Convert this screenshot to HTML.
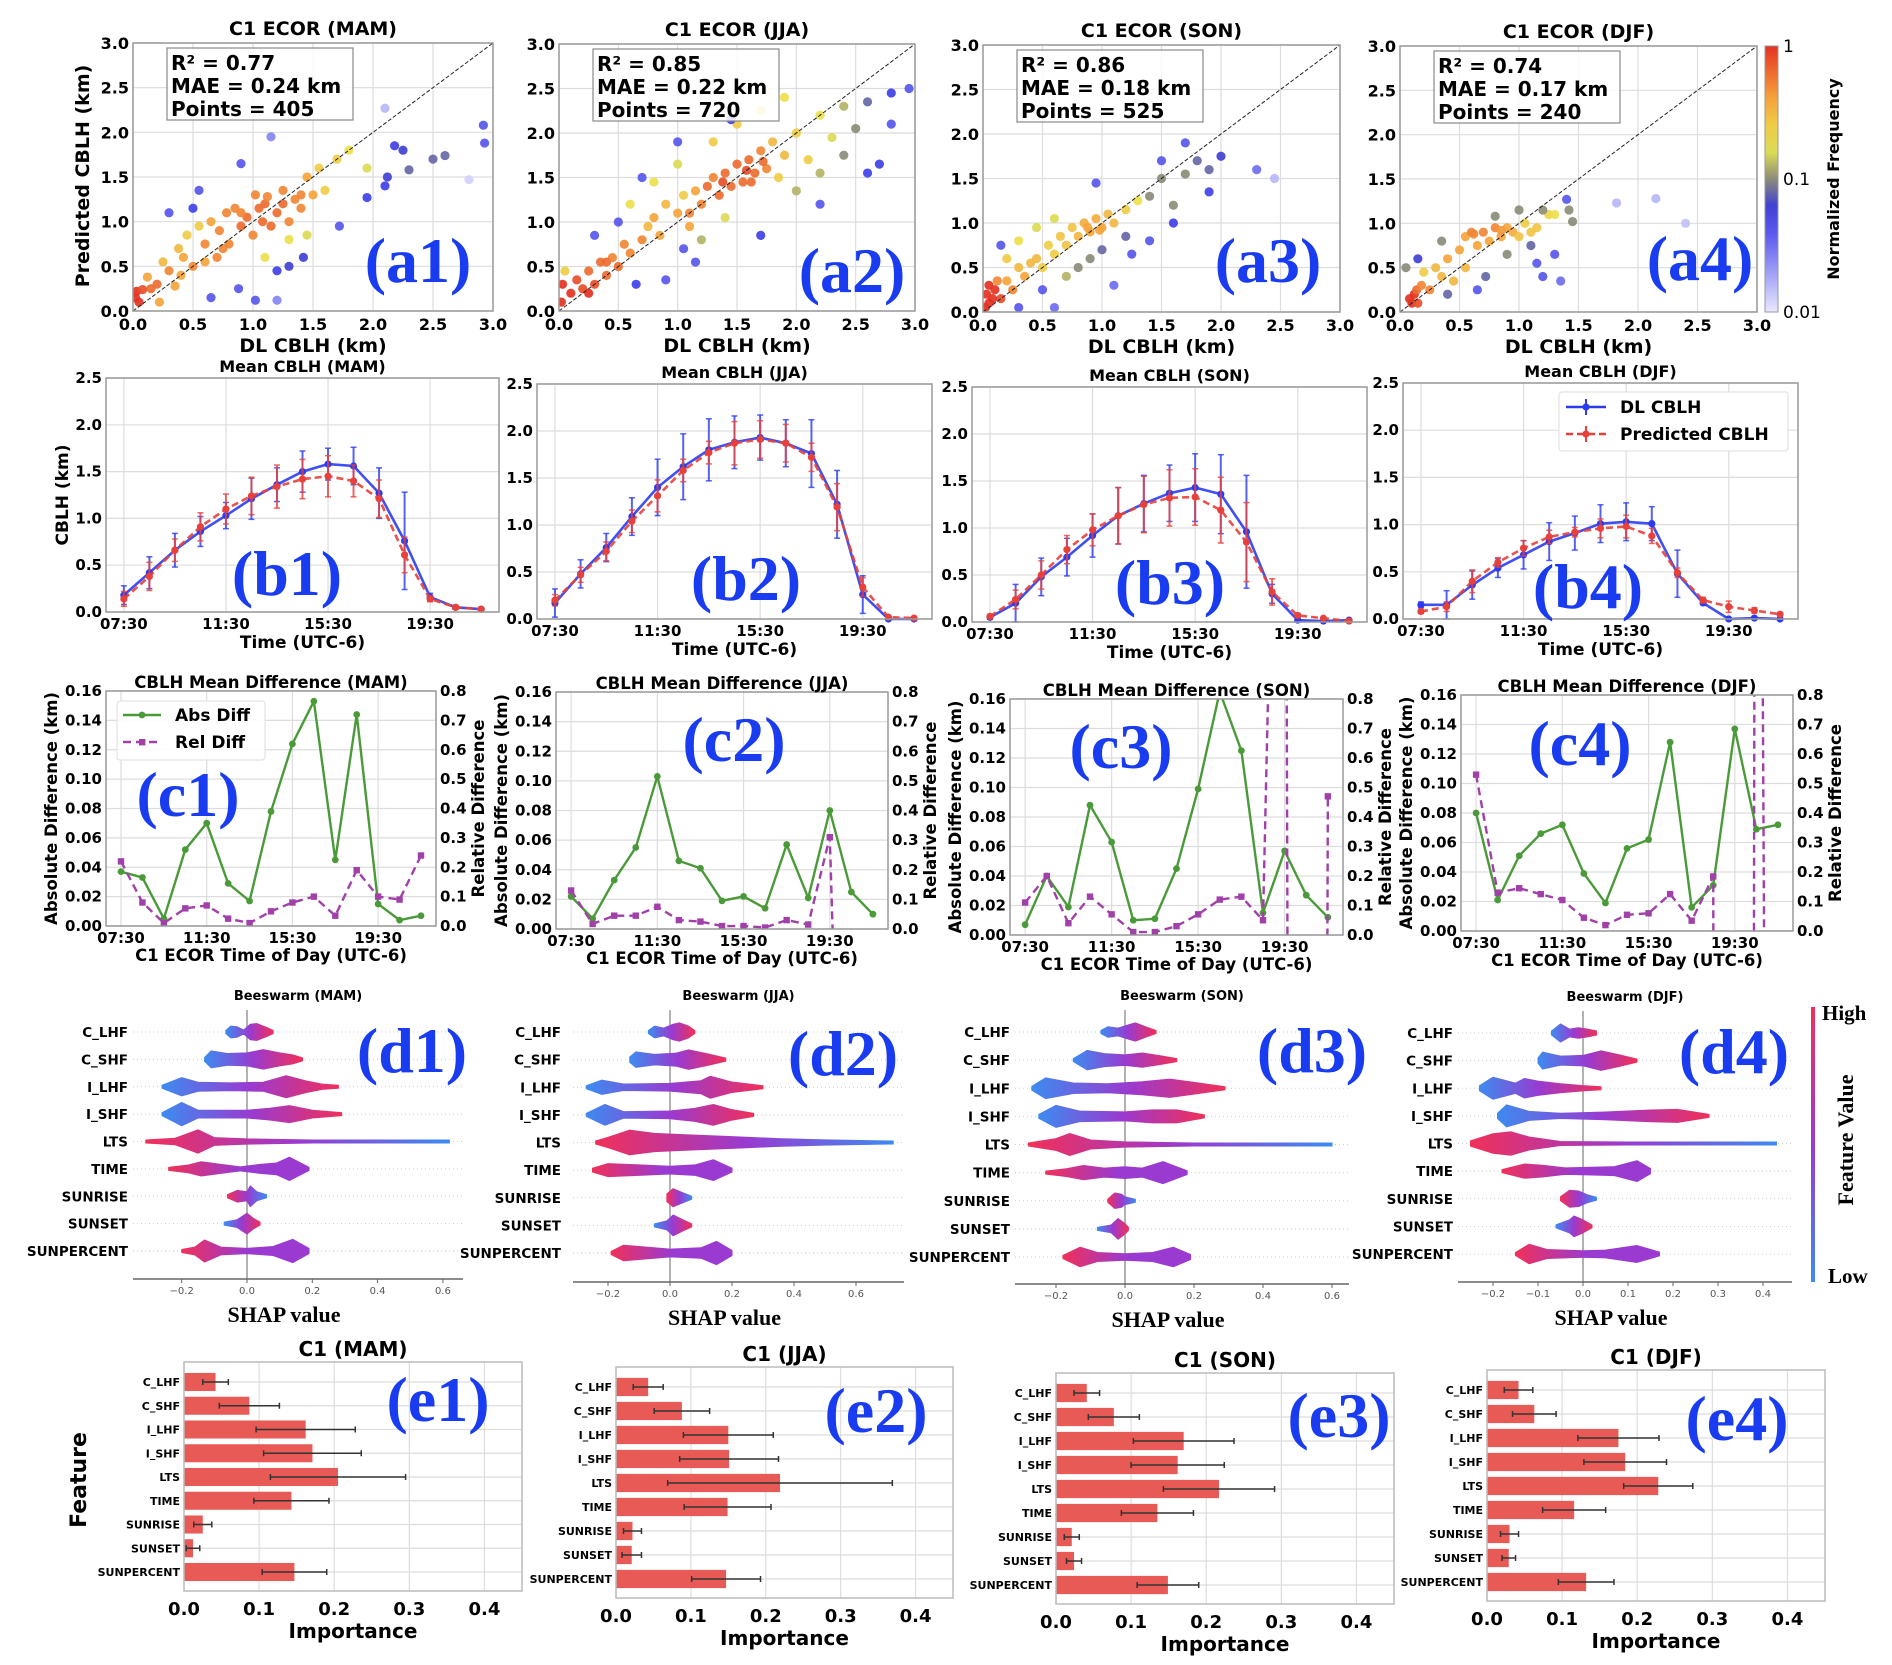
<!DOCTYPE html>
<html><head><meta charset="utf-8"><style>
html,body{margin:0;padding:0;background:#fff;width:1892px;height:1665px;overflow:hidden}
svg{display:block}
text{font-family:"DejaVu Sans","Liberation Sans",sans-serif}
.b{font-weight:bold}
.serif{font-family:"Liberation Serif",serif;font-weight:bold}
</style></head><body>
<svg id="fig" xmlns="http://www.w3.org/2000/svg" width="1892" height="1665" viewBox="0 0 1892 1665">
<rect x="0" y="0" width="1892" height="1665" fill="#fff"/>
<defs id="defs"></defs>
</svg>
<script>
// ================= DATA =================
const seasons=['MAM','JJA','SON','DJF'];
const statsR2=[0.77,0.85,0.86,0.74];
const statsMAE=[0.24,0.22,0.18,0.17];
const statsN=[405,720,525,240];
const scatterTicks=[0,0.5,1.0,1.5,2.0,2.5,3.0];
// scatter points [DL, predicted, colour-level 0..1 (log normalized frequency)]
const scatterMAM=[[0.02,0.15,1],[0.03,0.22,1],[0.05,0.1,1],[0.08,0.24,.95],[0.12,0.38,.8],[0.15,0.25,.9],[0.2,0.3,.9],[0.22,0.1,.8],[0.25,0.55,.75],[0.3,0.45,.85],[0.35,0.28,.8],[0.38,0.7,.75],[0.42,0.6,.8],[0.45,0.85,.7],[0.5,0.5,.85],[0.55,0.95,.7],[0.6,0.75,.85],[0.65,1.0,.8],[0.7,0.6,.85],[0.72,0.9,.85],[0.78,1.1,.85],[0.8,0.75,.85],[0.85,1.15,.85],[0.9,0.95,.9],[0.95,1.05,.9],[1.0,0.85,.85],[1.02,1.3,.85],[1.08,1.0,.9],[1.1,1.2,.9],[1.15,0.95,.9],[1.2,1.1,.9],[1.25,1.35,.85],[1.3,1.0,.85],[1.35,1.25,.85],[1.4,1.15,.85],[1.45,1.5,.8],[1.5,1.3,.8],[1.55,1.6,.7],[1.6,1.35,.7],[1.7,1.7,.7],[1.8,1.8,.65],[1.95,1.6,.6],[1.1,0.6,.65],[1.3,0.8,.65],[1.45,0.85,.6],[0.3,1.1,.3],[0.5,1.15,.35],[0.55,1.35,.3],[0.9,1.65,.3],[1.15,1.95,.2],[1.2,0.45,.35],[1.3,0.5,.4],[1.42,0.6,.4],[1.72,0.95,.3],[0.88,0.25,.3],[1.02,0.12,.3],[1.2,0.12,.2],[2.1,1.4,.35],[2.12,1.5,.4],[2.18,1.85,.35],[2.25,1.8,.4],[2.3,1.58,.45],[2.5,1.7,.45],[2.6,1.74,.45],[2.92,2.08,.3],[2.93,1.88,.3],[2.1,2.27,.1],[2.8,1.47,.05],[0.65,0.15,.3],[1.95,1.27,.35],[0.6,0.55,.8],[0.75,0.7,.85],[1.05,1.15,.9],[1.25,1.2,.9],[1.4,1.3,.85],[0.4,0.4,.8],[0.9,1.1,.85],[1.12,1.28,.85]];
const scatterJJA=[[0.02,0.1,1],[0.03,0.3,1],[0.05,0.45,.7],[0.1,0.2,1],[0.15,0.35,.95],[0.2,0.25,.95],[0.25,0.45,.9],[0.3,0.3,.95],[0.35,0.55,.9],[0.4,0.4,.9],[0.45,0.6,.85],[0.5,0.5,.9],[0.55,0.75,.85],[0.6,0.65,.85],[0.7,0.8,.85],[0.75,0.95,.75],[0.8,1.05,.8],[0.85,0.85,.8],[0.9,1.2,.75],[1.0,1.1,.8],[1.05,1.3,.7],[1.1,0.95,.8],[1.15,1.35,.8],[1.2,1.2,.85],[1.3,1.5,.85],[1.35,1.3,.9],[1.4,1.55,.9],[1.45,1.4,.9],[1.5,1.65,.9],[1.55,1.45,.9],[1.6,1.7,.9],[1.65,1.55,.9],[1.7,1.8,.85],[1.75,1.6,.85],[1.8,1.9,.75],[1.85,1.5,.7],[1.9,1.75,.75],[2.0,2.0,.7],[2.1,1.7,.7],[2.2,2.2,.65],[2.3,1.95,.6],[2.4,2.3,.55],[2.5,2.05,.5],[2.6,2.35,.45],[2.8,2.45,.35],[2.95,2.5,.3],[0.6,1.2,.65],[0.8,1.45,.65],[1.0,1.65,.6],[1.3,1.9,.7],[1.5,2.1,.7],[1.7,2.25,.65],[1.9,2.4,.65],[2.0,1.35,.55],[2.2,1.55,.55],[2.4,1.75,.5],[1.2,0.8,.55],[1.4,1.05,.6],[0.5,1.0,.3],[0.3,0.85,.3],[0.7,1.5,.3],[1.0,1.9,.3],[1.45,2.15,.35],[0.9,0.35,.3],[1.15,0.55,.3],[1.7,0.85,.35],[2.2,1.2,.3],[2.6,1.55,.35],[2.7,1.65,.35],[1.05,0.7,.3],[0.65,0.3,.35],[2.8,2.1,.3],[1.38,1.45,.95],[1.58,1.58,.95],[1.62,1.45,.9],[1.25,1.4,.9],[0.25,0.2,1],[0.4,0.55,.9],[1.1,1.1,.85],[1.72,1.68,.9]];
const scatterSON=[[0.02,0.05,1],[0.03,0.2,1],[0.05,0.1,1],[0.1,0.25,1],[0.15,0.15,.95],[0.12,0.35,.85],[0.2,0.35,.8],[0.25,0.25,.85],[0.3,0.5,.75],[0.35,0.4,.8],[0.4,0.55,.75],[0.45,0.6,.75],[0.5,0.5,.7],[0.55,0.75,.7],[0.6,0.65,.7],[0.65,0.85,.72],[0.7,0.75,.72],[0.75,0.95,.72],[0.8,0.85,.75],[0.85,1.0,.78],[0.9,0.9,.8],[0.95,1.05,.78],[1.0,0.95,.8],[1.05,1.1,.75],[1.1,1.0,.75],[1.2,1.15,.7],[1.3,1.25,.65],[0.2,0.6,.7],[0.3,0.8,.65],[0.45,0.95,.6],[0.6,1.05,.6],[0.7,0.4,.55],[0.8,0.5,.5],[0.9,0.6,.5],[1.0,0.7,.45],[1.2,0.85,.45],[1.4,1.3,.5],[1.5,1.5,.5],[1.6,1.2,.5],[1.7,1.55,.5],[1.8,1.7,.45],[1.9,1.6,.45],[2.0,1.75,.4],[1.5,1.7,.3],[1.7,1.9,.3],[1.4,0.8,.3],[1.25,0.65,.3],[1.6,1.0,.35],[1.9,1.35,.35],[0.3,0.05,.3],[0.5,0.25,.3],[0.6,0.05,.25],[0.15,0.75,.3],[2.3,1.6,.25],[2.45,1.5,.1],[1.1,0.3,.25],[0.95,1.45,.3],[0.98,0.92,.8],[0.88,0.95,.8],[0.05,0.3,1],[0.08,0.15,1]];
const scatterDJF=[[0.08,0.15,1],[0.1,0.1,1],[0.12,0.2,1],[0.15,0.1,.95],[0.14,0.25,.9],[0.18,0.3,.85],[0.2,0.45,.7],[0.25,0.25,.85],[0.3,0.5,.75],[0.35,0.4,.75],[0.4,0.6,.8],[0.45,0.35,.75],[0.5,0.7,.8],[0.55,0.5,.75],[0.55,0.85,.8],[0.6,0.9,.85],[0.65,0.75,.8],[0.7,0.9,.85],[0.75,0.8,.8],[0.8,0.95,.85],[0.85,0.85,.8],[0.9,0.95,.8],[0.95,0.9,.78],[1.0,0.85,.72],[1.05,1.0,.7],[1.1,0.9,.72],[1.15,0.95,.72],[1.25,1.1,.68],[1.3,1.1,.65],[0.05,0.5,.5],[0.4,0.2,.45],[0.35,0.8,.5],[0.8,1.08,.5],[1.0,1.15,.5],[1.2,1.15,.5],[1.42,1.15,.5],[1.45,1.02,.5],[0.9,0.65,.5],[1.1,0.75,.45],[0.72,0.4,.45],[0.65,0.25,.3],[1.15,0.55,.3],[1.2,0.4,.3],[1.3,0.65,.3],[1.35,0.35,.25],[1.4,1.27,.3],[1.82,1.23,.1],[2.15,1.28,.1],[2.4,1.0,.08],[0.15,0.6,.4],[0.62,0.88,.85],[0.85,0.92,.82]];

// mean CBLH diurnal cycles (hourly 07:30..21:30)
const timeTickLabels=['07:30','11:30','15:30','19:30'];
const timeTickPos=[0,4,8,12];
const dlMean_MAM=[0.18,0.42,0.66,0.86,1.03,1.21,1.36,1.50,1.58,1.56,1.27,0.76,0.16,0.05,0.03];
const dlErr_MAM=[0.1,0.17,0.18,0.16,0.14,0.22,0.18,0.22,0.17,0.2,0.27,0.52,0.04,0.02,0.01];
const predMean_MAM=[0.14,0.38,0.66,0.91,1.10,1.24,1.34,1.42,1.45,1.40,1.21,0.61,0.14,0.05,0.03];
const predErr_MAM=[0.08,0.15,0.12,0.15,0.16,0.2,0.23,0.21,0.22,0.17,0.2,0.19,0.03,0.02,0.01];
const dlMean_JJA=[0.17,0.48,0.76,1.09,1.40,1.62,1.80,1.88,1.93,1.87,1.76,1.22,0.26,0.0,0.0];
const dlErr_JJA=[0.15,0.15,0.15,0.2,0.3,0.35,0.33,0.28,0.24,0.25,0.36,0.36,0.2,0,0];
const predMean_JJA=[0.2,0.47,0.72,1.04,1.31,1.58,1.77,1.87,1.91,1.87,1.72,1.19,0.34,0.02,0.01];
const predErr_JJA=[0.06,0.08,0.1,0.12,0.17,0.12,0.12,0.23,0.2,0.2,0.15,0.25,0.1,0.01,0.01];
const dlMean_SON=[0.05,0.2,0.48,0.69,0.92,1.13,1.26,1.37,1.43,1.36,0.96,0.3,0.02,0.01,0.02];
const dlErr_SON=[0.02,0.2,0.2,0.2,0.23,0.3,0.3,0.3,0.36,0.42,0.6,0.1,0.01,0.01,0.01];
const predMean_SON=[0.06,0.24,0.5,0.77,0.98,1.13,1.25,1.32,1.33,1.19,0.85,0.32,0.07,0.04,0.01];
const predErr_SON=[0.02,0.1,0.15,0.15,0.17,0.3,0.3,0.3,0.3,0.35,0.42,0.14,0.02,0.01,0.01];
const dlMean_DJF=[0.15,0.15,0.36,0.54,0.68,0.82,0.91,1.01,1.03,1.01,0.48,0.17,0.0,0.01,0.0];
const dlErr_DJF=[0.03,0.15,0.15,0.1,0.15,0.2,0.18,0.2,0.2,0.18,0.25,0.02,0,0,0];
const predMean_DJF=[0.08,0.13,0.4,0.6,0.75,0.87,0.92,0.96,0.98,0.88,0.49,0.2,0.13,0.09,0.05];
const predErr_DJF=[0.02,0.05,0.12,0.05,0.08,0.07,0.05,0.1,0.12,0.08,0.05,0.03,0.06,0.03,0.02];
const cblhTicks=[0,0.5,1.0,1.5,2.0,2.5];

// mean differences
const absTicks=[0,0.02,0.04,0.06,0.08,0.10,0.12,0.14,0.16];
const relTicks=[0,0.1,0.2,0.3,0.4,0.5,0.6,0.7,0.8];
const absDiff_MAM=[0.037,0.033,0.005,0.052,0.070,0.029,0.017,0.078,0.124,0.153,0.045,0.144,0.015,0.004,0.007];
const relDiff_MAM=[0.22,0.08,0.01,0.06,0.07,0.025,0.01,0.05,0.08,0.10,0.035,0.19,0.10,0.09,0.24];
const absDiff_JJA=[0.022,0.007,0.033,0.055,0.103,0.046,0.041,0.019,0.022,0.014,0.057,0.021,0.080,0.025,0.010];
const relDiff_JJA=[0.13,0.017,0.045,0.045,0.075,0.03,0.025,0.01,0.01,0.005,0.03,0.015,0.31,-2.1,-1.5];
const absDiff_SON=[0.007,0.040,0.019,0.088,0.063,0.010,0.011,0.045,0.099,0.165,0.125,0.015,0.057,0.027,0.012];
const relDiff_SON=[0.11,0.20,0.04,0.13,0.07,0.01,0.01,0.03,0.07,0.12,0.13,0.05,3.3,-22,0.47];
const absDiff_DJF=[0.080,0.021,0.051,0.066,0.072,0.039,0.019,0.056,0.062,0.128,0.016,0.031,0.137,0.069,0.072];
const relDiff_DJF=[0.53,0.13,0.145,0.125,0.105,0.045,0.02,0.055,0.06,0.125,0.035,0.185,-40,5,-9];

// features
const features=['C_LHF','C_SHF','I_LHF','I_SHF','LTS','TIME','SUNRISE','SUNSET','SUNPERCENT'];
// beeswarm density profiles per feature: [SHAP value, relative density]
const swarm_MAM=[
[[-0.065,0.1],[-0.05,0.45],[-0.03,0.4],[-0.01,0.15],[0.01,0.6],[0.03,0.65],[0.06,0.35],[0.08,0.1]],
[[-0.13,0.15],[-0.11,0.65],[-0.06,0.45],[0,0.5],[0.05,0.75],[0.1,0.5],[0.14,0.35],[0.17,0.1]],
[[-0.26,0.1],[-0.2,0.7],[-0.15,0.35],[-0.05,0.3],[0.05,0.35],[0.12,0.85],[0.18,0.45],[0.23,0.2],[0.28,0.1]],
[[-0.26,0.1],[-0.2,0.9],[-0.15,0.3],[0,0.3],[0.07,0.45],[0.13,0.65],[0.2,0.3],[0.29,0.05]],
[[-0.31,0.1],[-0.22,0.25],[-0.15,0.9],[-0.1,0.3],[0,0.2],[0.2,0.1],[0.4,0.07],[0.62,0.06]],
[[-0.24,0.1],[-0.18,0.3],[-0.14,0.55],[-0.08,0.35],[-0.02,0.15],[0.04,0.35],[0.09,0.45],[0.13,0.9],[0.19,0.1]],
[[-0.06,0.1],[-0.03,0.45],[0.0,0.35],[0.01,0.8],[0.03,0.35],[0.06,0.1]],
[[-0.07,0.05],[-0.03,0.3],[0,0.8],[0.02,0.4],[0.04,0.1]],
[[-0.2,0.05],[-0.16,0.3],[-0.13,0.85],[-0.08,0.3],[0.0,0.2],[0.08,0.35],[0.14,0.9],[0.19,0.2]]];
const swarm_JJA=[
[[-0.07,0.1],[-0.05,0.45],[-0.02,0.3],[0.01,0.6],[0.03,0.7],[0.06,0.45],[0.08,0.1]],
[[-0.13,0.2],[-0.11,0.6],[-0.05,0.4],[0.02,0.5],[0.06,0.75],[0.12,0.45],[0.18,0.1]],
[[-0.27,0.1],[-0.22,0.55],[-0.15,0.25],[0,0.3],[0.1,0.5],[0.13,0.85],[0.2,0.4],[0.3,0.1]],
[[-0.27,0.1],[-0.21,0.8],[-0.15,0.25],[0,0.3],[0.08,0.5],[0.14,0.8],[0.2,0.4],[0.27,0.1]],
[[-0.24,0.1],[-0.2,0.4],[-0.13,0.95],[-0.05,0.7],[0.05,0.6],[0.2,0.45],[0.35,0.3],[0.5,0.2],[0.72,0.1]],
[[-0.25,0.15],[-0.2,0.5],[-0.1,0.4],[0,0.3],[0.08,0.4],[0.14,0.8],[0.2,0.15]],
[[-0.01,0.3],[0.01,0.7],[0.04,0.4],[0.07,0.1]],
[[-0.05,0.1],[-0.01,0.35],[0.01,0.8],[0.04,0.45],[0.07,0.1]],
[[-0.19,0.1],[-0.15,0.6],[-0.1,0.5],[0,0.3],[0.1,0.4],[0.15,0.9],[0.2,0.2]]];
const swarm_SON=[
[[-0.07,0.1],[-0.05,0.4],[-0.02,0.3],[0.01,0.55],[0.03,0.7],[0.06,0.4],[0.09,0.1]],
[[-0.15,0.1],[-0.11,0.75],[-0.06,0.5],[0,0.4],[0.05,0.55],[0.1,0.35],[0.15,0.1]],
[[-0.27,0.15],[-0.23,0.8],[-0.15,0.4],[-0.05,0.35],[0.05,0.5],[0.13,0.7],[0.2,0.45],[0.29,0.1]],
[[-0.25,0.15],[-0.2,0.85],[-0.13,0.4],[0,0.35],[0.08,0.5],[0.15,0.5],[0.23,0.1]],
[[-0.28,0.1],[-0.2,0.45],[-0.16,0.85],[-0.1,0.35],[0,0.2],[0.2,0.12],[0.4,0.07],[0.6,0.05]],
[[-0.23,0.1],[-0.17,0.3],[-0.12,0.55],[-0.06,0.35],[0,0.45],[0.05,0.35],[0.11,0.85],[0.18,0.15]],
[[-0.05,0.1],[-0.03,0.6],[-0.01,0.5],[0.0,0.3],[0.03,0.1]],
[[-0.08,0.1],[-0.04,0.3],[-0.02,0.8],[0,0.4],[0.01,0.1]],
[[-0.18,0.1],[-0.13,0.75],[-0.08,0.35],[0,0.25],[0.08,0.35],[0.14,0.75],[0.19,0.2]]];
const swarm_DJF=[
[[-0.07,0.15],[-0.05,0.7],[-0.03,0.3],[-0.01,0.4],[0.01,0.3],[0.03,0.15]],
[[-0.1,0.2],[-0.09,0.65],[-0.05,0.35],[0,0.4],[0.04,0.75],[0.08,0.45],[0.12,0.1]],
[[-0.23,0.2],[-0.2,0.85],[-0.15,0.4],[-0.13,0.75],[-0.1,0.55],[-0.05,0.35],[0.0,0.2],[0.04,0.1]],
[[-0.19,0.2],[-0.17,0.85],[-0.12,0.35],[-0.05,0.2],[0.05,0.3],[0.15,0.45],[0.21,0.5],[0.28,0.1]],
[[-0.25,0.2],[-0.2,0.75],[-0.16,0.9],[-0.12,0.5],[-0.05,0.15],[0.1,0.1],[0.3,0.07],[0.43,0.05]],
[[-0.18,0.1],[-0.13,0.55],[-0.09,0.45],[-0.04,0.25],[0.02,0.3],[0.07,0.35],[0.12,0.8],[0.15,0.2]],
[[-0.05,0.15],[-0.03,0.65],[-0.01,0.6],[0.01,0.3],[0.03,0.1]],
[[-0.06,0.1],[-0.03,0.5],[-0.02,0.8],[0,0.5],[0.02,0.1]],
[[-0.15,0.1],[-0.12,0.75],[-0.08,0.35],[0,0.25],[0.05,0.3],[0.12,0.65],[0.17,0.15]]];
const shapTicks_MAM=[-0.2,0,0.2,0.4,0.6];
const shapTicks_JJA=[-0.2,0,0.2,0.4,0.6];
const shapTicks_SON=[-0.2,0,0.2,0.4,0.6];
const shapTicks_DJF=[-0.2,-0.1,0,0.1,0.2,0.3,0.4];

// permutation importance (mean, std)
const imp_MAM=[0.042,0.087,0.162,0.171,0.205,0.143,0.025,0.012,0.147];
const impErr_MAM=[0.017,0.04,0.066,0.065,0.09,0.05,0.012,0.009,0.043];
const imp_JJA=[0.043,0.088,0.15,0.151,0.219,0.149,0.022,0.021,0.147];
const impErr_JJA=[0.02,0.037,0.06,0.066,0.15,0.058,0.012,0.013,0.046];
const imp_SON=[0.041,0.077,0.17,0.162,0.217,0.135,0.021,0.024,0.149];
const impErr_SON=[0.017,0.034,0.067,0.062,0.074,0.048,0.01,0.01,0.041];
const imp_DJF=[0.042,0.063,0.175,0.184,0.228,0.116,0.03,0.029,0.132];
const impErr_DJF=[0.019,0.029,0.054,0.055,0.046,0.042,0.012,0.009,0.037];
const impTicks=[0,0.1,0.2,0.3,0.4];

// ================= LAYOUT / STYLE =================
const scatterData=[scatterMAM,scatterJJA,scatterSON,scatterDJF];
const dlMeans=[dlMean_MAM,dlMean_JJA,dlMean_SON,dlMean_DJF];
const dlErrs=[dlErr_MAM,dlErr_JJA,dlErr_SON,dlErr_DJF];
const predMeans=[predMean_MAM,predMean_JJA,predMean_SON,predMean_DJF];
const predErrs=[predErr_MAM,predErr_JJA,predErr_SON,predErr_DJF];
const absDiffs=[absDiff_MAM,absDiff_JJA,absDiff_SON,absDiff_DJF];
const relDiffs=[relDiff_MAM,relDiff_JJA,relDiff_SON,relDiff_DJF];
const swarms=[swarm_MAM,swarm_JJA,swarm_SON,swarm_DJF];
const shapTicks=[shapTicks_MAM,shapTicks_JJA,shapTicks_SON,shapTicks_DJF];
const imps=[imp_MAM,imp_JJA,imp_SON,imp_DJF];
const impErrs=[impErr_MAM,impErr_JJA,impErr_SON,impErr_DJF];

const LA=[{l:133,r:493,t:43,b:311},{l:559,r:915,t:44,b:311},{l:983,r:1340,t:45,b:312},{l:1400,r:1757,t:46,b:312}];
const LB=[{l:106,r:499,t:378,b:612},{l:537,r:932,t:384,b:619},{l:972,r:1367,t:387,b:622},{l:1403,r:1798,t:383,b:619}];
const LC=[{l:106,r:436,t:691,b:926},{l:556,r:888,t:692,b:929},{l:1010,r:1343,t:699,b:935},{l:1461,r:1793,t:695,b:931}];
const LD=[{l:133,r:463,ax:1279,x0:247,s:326.5,r0:1032,r1:1251,lab:128},{l:573,r:904,ax:1282,x0:670,s:310,r0:1032,r1:1253,lab:561},{l:1015,r:1349,ax:1284,x0:1125,s:345,r0:1032,r1:1257,lab:1010},{l:1458,r:1792,ax:1282,x0:1583,s:450,r0:1033,r1:1254,lab:1453}];
const LE=[{l:184,r:522,t:1362,b:1591},{l:616,r:953,t:1367,b:1598},{l:1056,r:1394,t:1373,b:1604},{l:1487,r:1825,t:1370,b:1601}];
const panelLabels=[
['(a1)',418,262],['(a2)',852,272],['(a3)',1268,262],['(a4)',1700,260],
['(b1)',287,575],['(b2)',746,580],['(b3)',1170,584],['(b4)',1588,588],
['(c1)',188,796],['(c2)',734,741],['(c3)',1121,748],['(c4)',1580,745],
['(d1)',412,1052],['(d2)',843,1055],['(d3)',1312,1052],['(d4)',1734,1053],
['(e1)',438,1401],['(e2)',876,1412],['(e3)',1339,1417],['(e4)',1737,1420]];
const featColors=[['b','r'],['b','r'],['b','r'],['b','r'],['r','b'],['r','p'],['r','b'],['b','r'],['r','p']];
const colHex={b:'#3d8bf0',r:'#f0305a',p:'#9a3ad0'};

// ================= HELPERS =================
const NS='http://www.w3.org/2000/svg';
const svg=document.getElementById('fig');
const defs=document.getElementById('defs');
function mk(tag,attrs,parent){const e=document.createElementNS(NS,tag);for(const k in attrs)e.setAttribute(k,attrs[k]);(parent||svg).appendChild(e);return e;}
function txt(str,attrs,parent){const e=mk('text',attrs,parent);e.textContent=str;return e;}
function lin(d0,d1,r0,r1){return v=>r0+(v-d0)/(d1-d0)*(r1-r0);}
function cmap(c){
  const stops=[[0,[232,232,255]],[0.25,[110,110,240]],[0.38,[50,50,230]],[0.5,[140,140,120]],[0.62,[235,235,80]],[0.8,[245,165,60]],[1,[228,50,35]]];
  for(let i=1;i<stops.length;i++){if(c<=stops[i][0]){const a=stops[i-1],b=stops[i];const f=(c-a[0])/(b[0]-a[0]);const m=a[1].map((v,k)=>Math.round(v+(b[1][k]-v)*f));return 'rgb('+m.join(',')+')';}}
  return 'rgb(228,50,35)';
}
let clipId=0;
function clip(L){const id='clip'+(clipId++);const cp=mk('clipPath',{id:id},defs);mk('rect',{x:L.l,y:L.t,width:L.r-L.l,height:L.b-L.t},cp);return 'url(#'+id+')';}

// ================= ROW A: SCATTER =================
for(let p=0;p<4;p++){
  const L=LA[p];const g=mk('g',{});
  
  
  const X=lin(0,3,L.l,L.r),Y=lin(0,3,L.b,L.t);
  scatterTicks.forEach(v=>{
    const gl=mk('line',{x1:X(v),x2:X(v),y1:L.t,y2:L.b,stroke:'#ddd','stroke-width':1.2},g);
    
    
    const gl2=mk('line',{x1:L.l,x2:L.r,y1:Y(v),y2:Y(v),stroke:'#ddd','stroke-width':1.2},g);
    
    
    const tx=txt(v.toFixed(1),{x:X(v),y:L.b+19,'text-anchor':'middle','font-size':16,class:'b'},g);
    
    
    const ty=txt(v.toFixed(1),{x:L.l-4,y:Y(v)+6,'text-anchor':'end','font-size':16,class:'b'},g);
    
    
  });
  const cg=mk('g',{'clip-path':clip(L)},g);
  scatterData[p].forEach(pt=>{
    const c=mk('circle',{cx:X(pt[0]),cy:Y(pt[1]),r:4.6,fill:cmap(pt[2]),'fill-opacity':0.92},cg);
    
    
  });
  const d=mk('line',{x1:X(0),y1:Y(0),x2:X(3),y2:Y(3),stroke:'#222','stroke-width':1,'stroke-dasharray':'4,2'},g);
  
  
  const fr=mk('rect',{x:L.l,y:L.t,width:L.r-L.l,height:L.b-L.t,fill:'none',stroke:'#999','stroke-width':1.5},g);
  
  
  const sb=mk('rect',{x:L.l+34,y:L.t+5,width:186,height:72,fill:'#fff','fill-opacity':0.85,stroke:'#888','stroke-width':1.2},g);
  
  
  const s1=txt('R² = '+statsR2[p].toFixed(2),{x:L.l+38,y:L.t+27,'font-size':20,class:'b'},g);
  
  
  const s2=txt('MAE = '+statsMAE[p].toFixed(2)+' km',{x:L.l+38,y:L.t+50,'font-size':20,class:'b'},g);
  
  
  const s3=txt('Points = '+statsN[p],{x:L.l+38,y:L.t+73,'font-size':20,class:'b'},g);
  
  
  const tt=txt('C1 ECOR  ('+seasons[p]+')',{x:(L.l+L.r)/2,y:L.t-8,'text-anchor':'middle','font-size':19,class:'b','xml:space':'preserve'},g);
  
  
  const xl=txt('DL CBLH (km)',{x:(L.l+L.r)/2,y:L.b+41,'text-anchor':'middle','font-size':19,class:'b'},g);
  
  
}
{
  const yl=txt('Predicted CBLH (km)',{x:0,y:0,'text-anchor':'middle','font-size':19,class:'b',transform:'translate(89,176) rotate(-90)'});
  
  
  const gr=mk('linearGradient',{id:'cbgrad',x1:0,y1:1,x2:0,y2:0},defs);
  for(let i=0;i<=10;i++){mk('stop',{offset:i/10,'stop-color':cmap(i/10)},gr);}
  const cb=mk('rect',{x:1765,y:46,width:13,height:266,fill:'url(#cbgrad)',stroke:'#999','stroke-width':1});
  
  
  [['1',46],['0.1',179],['0.01',312]].forEach(t=>{
    const e=txt(t[0],{x:1783,y:t[1]+6,'font-size':17});
    
    
  });
  const cl=txt('Normalized Frequency',{x:0,y:0,'text-anchor':'middle','font-size':16,class:'b',transform:'translate(1839,179) rotate(-90)'});
  
  
}

// ================= ROW B: MEAN CBLH =================
for(let p=0;p<4;p++){
  const L=LB[p];const g=mk('g',{});
  
  
  const X=lin(-0.7,14.7,L.l,L.r),Y=lin(0,2.5,L.b,L.t);
  cblhTicks.forEach(v=>{
    const gl=mk('line',{x1:L.l,x2:L.r,y1:Y(v),y2:Y(v),stroke:'#ddd','stroke-width':1.2},g);
    
    
    const ty=txt(v.toFixed(1),{x:L.l-4,y:Y(v)+5,'text-anchor':'end','font-size':15,class:'b'},g);
    
    
  });
  timeTickPos.forEach((v,i)=>{
    const gl=mk('line',{x1:X(v),x2:X(v),y1:L.t,y2:L.b,stroke:'#ddd','stroke-width':1.2},g);
    
    
    const tx=txt(timeTickLabels[i],{x:X(v),y:L.b+17,'text-anchor':'middle','font-size':15,class:'b'},g);
    
    
  });
  const series=[[dlMeans[p],dlErrs[p],'#2b3cf0','none','dl'],[predMeans[p],predErrs[p],'#e8403a','7,4','pred']];
  series.forEach(s=>{
    const m=s[0],e=s[1];
    for(let i=0;i<m.length;i++){
      const x=X(i);
      const eb=mk('line',{x1:x,x2:x,y1:Y(m[i]-e[i]),y2:Y(m[i]+e[i]),stroke:s[2],'stroke-width':2,'stroke-opacity':0.8},g);
      
      
      [m[i]-e[i],m[i]+e[i]].forEach(v=>{const cp=mk('line',{x1:x-3,x2:x+3,y1:Y(v),y2:Y(v),stroke:s[2],'stroke-width':1.5,'stroke-opacity':0.8},g);
        
        });
    }
    const pl=mk('polyline',{points:m.map((v,i)=>X(i)+','+Y(v)).join(' '),fill:'none',stroke:s[2],'stroke-width':2.6,'stroke-dasharray':s[3],'stroke-opacity':0.9},g);
    
    
    m.forEach((v,i)=>{const c=mk('circle',{cx:X(i),cy:Y(v),r:3.6,fill:s[2]},g);
      
      });
  });
  const fr=mk('rect',{x:L.l,y:L.t,width:L.r-L.l,height:L.b-L.t,fill:'none',stroke:'#999','stroke-width':1.5},g);
  
  
  const tt=txt('Mean CBLH  ('+seasons[p]+')',{x:(L.l+L.r)/2,y:L.t-6,'text-anchor':'middle','font-size':16,class:'b','xml:space':'preserve'},g);
  
  
  const xl=txt('Time (UTC-6)',{x:(L.l+L.r)/2,y:L.b+36,'text-anchor':'middle','font-size':17,class:'b'},g);
  
  
}
{
  const yl=txt('CBLH (km)',{x:0,y:0,'text-anchor':'middle','font-size':17,class:'b',transform:'translate(68,495) rotate(-90)'});
  
  
  const lg=mk('g',{});
  
  
  const lb=mk('rect',{x:1559,y:392,width:229,height:59,rx:3,fill:'#fff',stroke:'#ddd','stroke-width':1},lg);
  
  
  [['DL CBLH','#2b3cf0','none',407],['Predicted CBLH','#e8403a','7,4',434]].forEach(en=>{
    const ln=mk('line',{x1:1566,x2:1606,y1:en[3],y2:en[3],stroke:en[1],'stroke-width':2.6,'stroke-dasharray':en[2]},lg);
    
    
    const eb=mk('line',{x1:1586,x2:1586,y1:en[3]-8,y2:en[3]+8,stroke:en[1],'stroke-width':2},lg);
    
    
    const c=mk('circle',{cx:1586,cy:en[3],r:3.6,fill:en[1]},lg);
    
    
    const t=txt(en[0],{x:1620,y:en[3]+6,'font-size':17,class:'b'},lg);
    
    
  });
}

// ================= ROW C: MEAN DIFFERENCE =================
for(let p=0;p<4;p++){
  const L=LC[p];const g=mk('g',{});
  
  
  const X=lin(-0.7,14.7,L.l,L.r),Y=lin(0,0.16,L.b,L.t),Y2=lin(0,0.8,L.b,L.t);
  absTicks.forEach(v=>{
    const gl=mk('line',{x1:L.l,x2:L.r,y1:Y(v),y2:Y(v),stroke:'#ddd','stroke-width':1.2},g);
    
    
    const ty=txt(v.toFixed(2),{x:L.l-4,y:Y(v)+5,'text-anchor':'end','font-size':15,class:'b'},g);
    
    
  });
  relTicks.forEach(v=>{
    const ty=txt(v.toFixed(1),{x:L.r+4,y:Y2(v)+5,'font-size':15,class:'b'},g);
    
    
  });
  timeTickPos.forEach((v,i)=>{
    const gl=mk('line',{x1:X(v),x2:X(v),y1:L.t,y2:L.b,stroke:'#ddd','stroke-width':1.2},g);
    
    
    const tx=txt(timeTickLabels[i],{x:X(v),y:L.b+17,'text-anchor':'middle','font-size':15,class:'b'},g);
    
    
  });
  const cg=mk('g',{'clip-path':clip(L)},g);
  const a=absDiffs[p],r=relDiffs[p];
  const pl=mk('polyline',{points:a.map((v,i)=>X(i)+','+Y(v)).join(' '),fill:'none',stroke:'#4a9a3a','stroke-width':2.4},cg);
  
  
  a.forEach((v,i)=>{const c=mk('circle',{cx:X(i),cy:Y(v),r:3.4,fill:'#4a9a3a'},cg);
    
    });
  const pr=mk('polyline',{points:r.map((v,i)=>X(i)+','+Y2(v)).join(' '),fill:'none',stroke:'#a040a8','stroke-width':2.4,'stroke-dasharray':'8,5'},cg);
  
  
  r.forEach((v,i)=>{const s=mk('rect',{x:X(i)-3.2,y:Y2(v)-3.2,width:6.4,height:6.4,fill:'#a040a8'},cg);
    
    });
  const fr=mk('rect',{x:L.l,y:L.t,width:L.r-L.l,height:L.b-L.t,fill:'none',stroke:'#999','stroke-width':1.5},g);
  
  
  const tt=txt('CBLH Mean Difference ('+seasons[p]+')',{x:(L.l+L.r)/2,y:L.t-3,'text-anchor':'middle','font-size':16.5,class:'b'},g);
  
  
  const xl=txt('C1 ECOR Time of Day (UTC-6)',{x:(L.l+L.r)/2,y:L.b+35,'text-anchor':'middle','font-size':16.5,class:'b'},g);
  
  
  const yl=txt('Absolute Difference (km)',{x:0,y:0,'text-anchor':'middle','font-size':16.5,class:'b',transform:'translate('+(L.l-49)+','+((L.t+L.b)/2)+') rotate(-90)'},g);
  
  
  const yr=txt('Relative Difference',{x:0,y:0,'text-anchor':'middle','font-size':16.5,class:'b',transform:'translate('+(L.r+48)+','+((L.t+L.b)/2)+') rotate(-90)'},g);
  
  
}
{
  const lg=mk('g',{});
  
  
  const lb=mk('rect',{x:117,y:701,width:148,height:59,rx:3,fill:'#fff','fill-opacity':0.9,stroke:'#ddd','stroke-width':1},lg);
  
  
  const l1=mk('line',{x1:123,x2:161,y1:715,y2:715,stroke:'#4a9a3a','stroke-width':2.4},lg);
  
  
  const m1=mk('circle',{cx:142,cy:715,r:3.4,fill:'#4a9a3a'},lg);
  
  
  const l2=mk('line',{x1:123,x2:161,y1:742,y2:742,stroke:'#a040a8','stroke-width':2.4,'stroke-dasharray':'8,5'},lg);
  
  
  const m2=mk('rect',{x:139,y:739,width:6.4,height:6.4,fill:'#a040a8'},lg);
  
  
  const t1=txt('Abs Diff',{x:175,y:721,'font-size':17,class:'b'},lg);
  
  
  const t2=txt('Rel Diff',{x:175,y:748,'font-size':17,class:'b'},lg);
  
  
}

// ================= ROW D: BEESWARM =================
for(let p=0;p<4;p++){
  const L=LD[p];const g=mk('g',{});
  
  
  const X=v=>L.x0+v*L.s;
  const step=(L.r1-L.r0)/8;
  const H=13;
  const zl=mk('line',{x1:X(0),x2:X(0),y1:L.r0-22,y2:L.ax,stroke:'#999','stroke-width':1.5},g);
  
  
  features.forEach((f,i)=>{
    const y=L.r0+i*step;
    const rl=mk('line',{x1:L.l,x2:L.r,y1:y,y2:y,stroke:'#ccc','stroke-width':1,'stroke-dasharray':'1,3'},g);
    
    
    const kn=swarms[p][i];
    const x0=X(kn[0][0]),x1=X(kn[kn.length-1][0]);
    const gid='sg'+p+'_'+i;
    const gr=mk('linearGradient',{id:gid,gradientUnits:'userSpaceOnUse',x1:x0,y1:0,x2:x1,y2:0},defs);
    mk('stop',{offset:0,'stop-color':colHex[featColors[i][0]]},gr);
    mk('stop',{offset:0.5,'stop-color':'#9a3ad0'},gr);
    mk('stop',{offset:1,'stop-color':colHex[featColors[i][1]]},gr);
    const top=kn.map(k=>X(k[0])+','+(y-Math.max(1.5,k[1]*H)));
    const bot=kn.slice().reverse().map(k=>X(k[0])+','+(y+Math.max(1.5,k[1]*H)));
    const poly=mk('polygon',{points:top.concat(bot).join(' '),fill:'url(#'+gid+')','stroke':'url(#'+gid+')','stroke-width':1,'stroke-linejoin':'round'},g);
    
    
    const lt=txt(f,{x:L.lab,y:y+5,'text-anchor':'end','font-size':13.5,class:'b'},g);
    
    
  });
  const ax=mk('line',{x1:L.l,x2:L.r,y1:L.ax,y2:L.ax,stroke:'#666','stroke-width':1.4},g);
  
  
  shapTicks[p].forEach(v=>{
    const tk=mk('line',{x1:X(v),x2:X(v),y1:L.ax,y2:L.ax+4,stroke:'#666','stroke-width':1},g);
    
    
    const tx=txt((v<0?'\u2212':'')+Math.abs(v).toFixed(1),{x:X(v),y:L.ax+15,'text-anchor':'middle','font-size':10,fill:'#555'},g);
    
    
  });
  const tt=txt('Beeswarm ('+seasons[p]+')',{x:(L.l+L.r)/2,y:L.r0-32,'text-anchor':'middle','font-size':13,class:'b'},g);
  
  
  const xl=txt('SHAP value',{x:(L.l+L.r)/2-14,y:L.ax+43,'text-anchor':'middle','font-size':22,class:'serif'},g);
  
  
}
{
  const gr=mk('linearGradient',{id:'fvgrad',x1:0,y1:1,x2:0,y2:0},defs);
  mk('stop',{offset:0,'stop-color':'#3d8bf0'},gr);
  mk('stop',{offset:0.5,'stop-color':'#9a3ad0'},gr);
  mk('stop',{offset:1,'stop-color':'#f0305a'},gr);
  const cb=mk('rect',{x:1811,y:1007,width:4,height:275,fill:'url(#fvgrad)'});
  
  
  const hi=txt('High',{x:1822,y:1020,'font-size':21,class:'serif'});
  
  
  const lo=txt('Low',{x:1828,y:1283,'font-size':21,class:'serif'});
  
  
  const fv=txt('Feature Value',{x:0,y:0,'text-anchor':'middle','font-size':22,class:'serif',transform:'translate(1853,1140) rotate(-90)'});
  
  
}

// ================= ROW E: IMPORTANCE =================
for(let p=0;p<4;p++){
  const L=LE[p];const g=mk('g',{});
  
  
  const X=lin(0,0.45,L.l,L.r);
  const y0=L.t+20,step=(L.b-L.t-39)/8,bh=step*0.76;
  impTicks.forEach(v=>{
    const gl=mk('line',{x1:X(v),x2:X(v),y1:L.t,y2:L.b,stroke:'#ddd','stroke-width':1.2},g);
    
    
    const tx=txt(v.toFixed(1),{x:X(v),y:L.b+24,'text-anchor':'middle','font-size':18,class:'b'},g);
    
    
  });
  features.forEach((f,i)=>{
    const y=y0+i*step;
    const gl=mk('line',{x1:L.l,x2:L.r,y1:y,y2:y,stroke:'#ddd','stroke-width':1.2},g);
    
    
  });
  features.forEach((f,i)=>{
    const y=y0+i*step,v=imps[p][i],e=impErrs[p][i];
    const b=mk('rect',{x:X(0),y:y-bh/2,width:X(v)-X(0),height:bh,fill:'#e85a55'},g);
    
    
    const eb=mk('line',{x1:X(v-e),x2:X(v+e),y1:y,y2:y,stroke:'#333','stroke-width':1.5},g);
    
    
    [v-e,v+e].forEach(w=>{const cp=mk('line',{x1:X(w),x2:X(w),y1:y-3,y2:y+3,stroke:'#333','stroke-width':1.5},g);
      
      });
    const lt=txt(f,{x:L.l-4,y:y+4,'text-anchor':'end','font-size':11,class:'b'},g);
    
    
  });
  const fr=mk('rect',{x:L.l,y:L.t,width:L.r-L.l,height:L.b-L.t,fill:'none',stroke:'#bbb','stroke-width':1.5},g);
  
  
  const tt=txt('C1 ('+seasons[p]+')',{x:(L.l+L.r)/2,y:L.t-6,'text-anchor':'middle','font-size':20,class:'b'},g);
  
  
  const xl=txt('Importance',{x:(L.l+L.r)/2,y:L.b+47,'text-anchor':'middle','font-size':20,class:'b'},g);
  
  
}
{
  const yl=txt('Feature',{x:0,y:0,'text-anchor':'middle','font-size':22,class:'b',transform:'translate(86,1480) rotate(-90)'});
  
  
}

// ================= PANEL LABELS =================
panelLabels.forEach(pl=>{
  const t=txt(pl[0],{x:pl[1],y:pl[2]+20,'text-anchor':'middle','font-size':64,class:'serif',fill:'#1a3cf0'});
  
  
});
</script>
</body></html>
